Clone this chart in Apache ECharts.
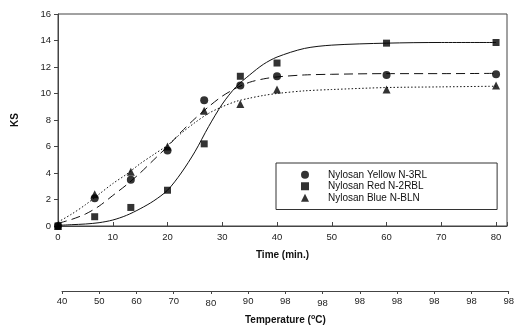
<!DOCTYPE html>
<html>
<head>
<meta charset="utf-8">
<script src="https://cdn.jsdelivr.net/npm/echarts@6/dist/echarts.min.js"></script>
<style>
  html, body { margin: 0; padding: 0; background: #fff; }
  #chart { width: 517px; height: 326px; }
</style>
</head>
<body>
<div id="chart"></div>
<script>
// measured points
const time = [0, 6.7, 13.3, 20, 26.7, 33.3, 40, 60, 80];
const yellow = [0, 2.1, 3.5, 5.7, 9.5, 10.6, 11.3, 11.4, 11.45];
const red = [0, 0.7, 1.4, 2.7, 6.2, 11.3, 12.3, 13.8, 13.85];
const blue = [0, 2.4, 4.1, 6.0, 8.7, 9.2, 10.3, 10.3, 10.6];

// fitted curves
const fitTime = [0, 2.5, 5, 7.5, 10, 12.5, 15, 17.5, 20, 22.5, 25, 27.5, 30, 32.5, 35, 37.5, 40, 45, 50, 60, 70, 80];
const fitYellow = [0.2, 0.5, 0.9, 1.5, 2.3, 3.1, 4.0, 5.0, 6.0, 7.1, 8.1, 9.0, 9.8, 10.4, 10.85, 11.1, 11.25, 11.4, 11.45, 11.5, 11.5, 11.52];
const fitRed = [0.05, 0.1, 0.15, 0.25, 0.45, 0.8, 1.3, 1.9, 2.7, 4.0, 5.6, 7.5, 9.2, 10.5, 11.4, 12.2, 12.75, 13.4, 13.65, 13.8, 13.85, 13.85];
const fitBlue = [0.3, 0.9, 1.6, 2.4, 3.2, 3.9, 4.7, 5.4, 6.1, 7.0, 7.8, 8.5, 9.0, 9.4, 9.65, 9.85, 10.0, 10.2, 10.3, 10.45, 10.5, 10.55];

const names = ['Nylosan Yellow N-3RL', 'Nylosan Red N-2RBL', 'Nylosan Blue N-BLN'];
const tempLabels = ['40', '50', '60', '70', '80', '90', '98', '98', '98', '98', '98', '98', '98'];

const font = 'Liberation Sans, Arial, Helvetica, sans-serif';
const frame = '#444';

const pair = (xs, ys) => xs.map((x, i) => [x, ys[i]]);

const chart = echarts.init(document.getElementById('chart'));

// a few temperature labels sit slightly off the line in the original
const lowered = [4, 7];
const raised = [5];

const option = {
  animation: false,
  textStyle: { fontFamily: font, color: '#111' },
  grid: [
    { left: 58, right: 10, top: 14, bottom: 100, show: true, borderColor: frame, borderWidth: 1 },
    { left: 62, right: 7, top: 291, height: 0 }
  ],
  xAxis: [
    {
      type: 'value', gridIndex: 0, min: 0, max: 82, interval: 10,
      name: 'Time (min.)', nameLocation: 'middle', nameGap: 24,
      nameTextStyle: { fontFamily: font, fontSize: 10, fontWeight: 'bold', color: '#111' },
      axisLine: { lineStyle: { color: frame, width: 1 } },
      axisTick: { inside: true, length: 4, lineStyle: { color: frame } },
      axisLabel: {
        fontSize: 9.5, color: '#222', margin: 6,
        formatter: v => (v % 10 === 0 ? String(v) : '')
      },
      splitLine: { show: false }
    },
    {
      type: 'category', gridIndex: 1, boundaryGap: false, data: tempLabels,
      name: 'Temperature ({sup|o}C)', nameLocation: 'middle', nameGap: 23,
      nameTextStyle: {
        fontFamily: font, fontSize: 10, fontWeight: 'bold', color: '#111',
        rich: { sup: { fontSize: 7, fontWeight: 'bold', verticalAlign: 'top', padding: [0, 0, 5, 0] } }
      },
      axisLine: { lineStyle: { color: frame, width: 1 } },
      axisTick: { show: true, length: 3, alignWithLabel: true, interval: 0, lineStyle: { color: frame } },
      axisLabel: {
        interval: 0, fontSize: 9.5, color: '#222', margin: 5,
        formatter: (v, i) => lowered.includes(i) ? '{lo|' + v + '}' : (raised.includes(i) ? '{hi|' + v + '}' : v),
        rich: {
          lo: { fontSize: 9.5, color: '#222', padding: [2, 0, 0, 0] },
          hi: { fontSize: 9.5, color: '#222', padding: [0, 0, 2, 0] }
        }
      }
    }
  ],
  yAxis: [
    {
      type: 'value', gridIndex: 0, min: 0, max: 16, interval: 2,
      name: 'KS', nameLocation: 'middle', nameGap: 38,
      nameTextStyle: { fontFamily: font, fontSize: 10, fontWeight: 'bold', color: '#111' },
      axisLine: { show: true, lineStyle: { color: frame, width: 1 } },
      axisTick: { show: true, length: 4, lineStyle: { color: frame } },
      axisLabel: { fontSize: 9.5, color: '#222', margin: 7 },
      splitLine: { show: false }
    },
    { type: 'value', gridIndex: 1, show: false }
  ],
  legend: {
    orient: 'vertical', left: 276, top: 163,
    padding: [6, 70, 6, 25],
    itemWidth: 8, itemHeight: 8, itemGap: 0,
    borderColor: '#333', borderWidth: 1,
    data: names,
    textStyle: { fontFamily: font, fontSize: 10, color: '#111', lineHeight: 11.5, padding: [0, 0, 0, 14] }
  },
  series: [
    {
      name: 'fitRed', type: 'line', data: pair(fitTime, fitRed), smooth: 0.3,
      showSymbol: false, lineStyle: { color: '#111', width: 1 }, z: 1
    },
    {
      name: 'fitYellow', type: 'line', data: pair(fitTime, fitYellow), smooth: 0.3,
      showSymbol: false, lineStyle: { color: '#111', width: 1, type: [9, 5] }, z: 1
    },
    {
      name: 'fitBlue', type: 'line', data: pair(fitTime, fitBlue), smooth: 0.3,
      showSymbol: false, lineStyle: { color: '#111', width: 1, type: [1.5, 2] }, z: 1
    },
    {
      name: names[0], type: 'scatter', data: pair(time, yellow),
      symbol: 'circle', symbolSize: 8, itemStyle: { color: '#000' }, z: 3
    },
    {
      name: names[1], type: 'scatter', data: pair(time, red),
      symbol: 'rect', symbolSize: 7, itemStyle: { color: '#000' }, z: 3
    },
    {
      name: names[2], type: 'scatter', data: pair(time, blue),
      symbol: 'triangle', symbolSize: 8, itemStyle: { color: '#000' }, z: 3
    }
  ]
};

chart.setOption(option);
</script>
</body>
</html>
